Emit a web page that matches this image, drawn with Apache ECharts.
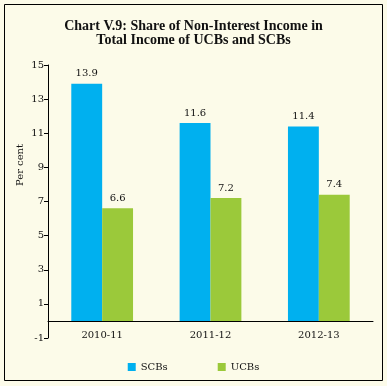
<!DOCTYPE html>
<html><head><meta charset="utf-8">
<script src="https://cdn.jsdelivr.net/npm/echarts@6/dist/echarts.min.js"></script>
<style>html,body{margin:0;padding:0;background:#fff}#c{width:387px;height:386px}</style>
</head><body><div id="c"></div>
<script>
const categories = ['2010-11', '2011-12', '2012-13'];
const scbs = [13.9, 11.6, 11.4];
const ucbs = [6.6, 7.2, 7.4];
const seriesNames = ['SCBs', 'UCBs'];
const yMin = -1, yMax = 15, yInterval = 2;

const font = 'Liberation Serif';
const font2 = 'DejaVu Serif';
const chart = echarts.init(document.getElementById('c'), null, {renderer: 'canvas'});
chart.setOption({
  backgroundColor: '#fcfbe9',
  animation: false,
  title: {
    text: 'Chart V.9: Share of Non-Interest Income in\nTotal Income of UCBs and SCBs',
    left: 'center', top: 14,
    textStyle: {fontFamily: font, fontWeight: 'bold', fontSize: 14, lineHeight: 14, color: '#111'}
  },
  graphic: [
    {type: 'rect', shape: {x: 4.5, y: 4.5, width: 378, height: 376}, style: {fill: 'none', stroke: '#000', lineWidth: 1}, silent: true},
    {type: 'text', x: 20, y: 165, rotation: Math.PI / 2, style: {text: 'Per cent', font: '10px ' + font2, fill: '#111', align: 'center', verticalAlign: 'middle'}}
  ],
  legend: {
    data: seriesNames, bottom: 9, left: 'center', itemWidth: 8, itemHeight: 8, itemGap: 50,
    icon: 'rect', textStyle: {fontFamily: font2, fontSize: 10, color: '#111'}
  },
  grid: {left: 48, right: 14, top: 65, bottom: 48},
  xAxis: {
    type: 'category', data: categories,
    axisLine: {onZero: true, lineStyle: {color: '#000'}},
    axisTick: {length: 9, lineStyle: {color: '#000'}},
    axisLabel: {fontFamily: font2, fontSize: 10, color: '#111', margin: -8}
  },
  yAxis: {
    type: 'value', min: yMin, max: yMax, interval: yInterval,
    splitLine: {show: false},
    axisLine: {show: true, lineStyle: {color: '#000'}},
    axisTick: {show: true, length: 4, lineStyle: {color: '#000'}},
    axisLabel: {fontFamily: font2, fontSize: 10, color: '#111', margin: 4}
  },
  series: [
    {name: seriesNames[0], type: 'bar', data: scbs, barGap: '0%', barCategoryGap: '43%',
     itemStyle: {color: '#00b0ef'},
     label: {show: true, position: 'top', fontFamily: font2, fontSize: 10, color: '#111', formatter: p => p.value.toFixed(1)}},
    {name: seriesNames[1], type: 'bar', data: ucbs, barGap: '0%', barCategoryGap: '43%',
     itemStyle: {color: '#9bc93a'},
     label: {show: true, position: 'top', fontFamily: font2, fontSize: 10, color: '#111', formatter: p => p.value.toFixed(1)}}
  ]
});
</script></body></html>
